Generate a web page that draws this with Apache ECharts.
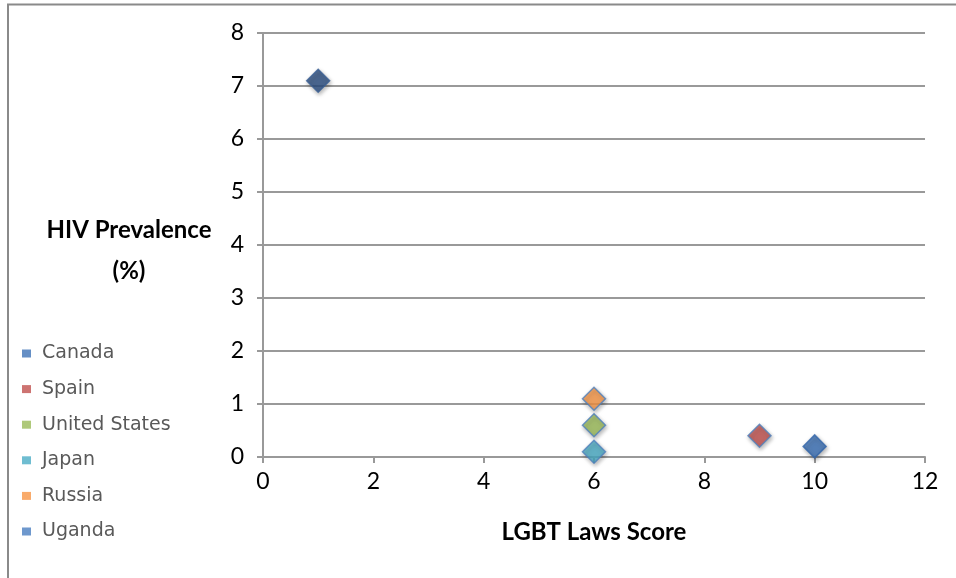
<!DOCTYPE html>
<html><head><meta charset="utf-8">
<script src="https://cdn.jsdelivr.net/npm/echarts@6/dist/echarts.min.js"></script>
<style>html,body{margin:0;padding:0;background:#fff}#c{width:956px;height:578px}</style>
</head><body><div id="c"></div>
<script>
const countries = ['Canada','Spain','United States','Japan','Russia','Uganda'];
const lgbtScore = [10, 9, 6, 6, 6, 1];
const hivPrevalence = [0.2, 0.4, 0.6, 0.1, 1.1, 7.1];
const fillColors = ['#3A6FB5','#C0504D','#9BBB59','#4BACC6','#F79646','#2C4F82'];
const borderColors = ['#3567AA','#4F81BD','#4F81BD','#4F81BD','#4F81BD','#3A5F94'];
const legendColors = ['#3F73B6','#C0504D','#9BBB59','#4BACC6','#F79646','#4A7EC0'];
const xTicks = [0,2,4,6,8,10,12];
const yTicks = [0,1,2,3,4,5,6,7,8];

const chart = echarts.init(document.getElementById('c'));
const series = countries.map((n,i)=>({
  name:n, type:'scatter', symbol:'diamond', symbolSize:23,
  data:[[lgbtScore[i], hivPrevalence[i]]],
  itemStyle:{color:fillColors[i], borderColor:borderColors[i], borderWidth:1.5,
    shadowColor:'rgba(0,0,0,0.35)', shadowBlur:4, shadowOffsetX:1, shadowOffsetY:2},
  emphasis:{disabled:true}
}));
chart.setOption({
  animation:false,
  graphic:[
    {type:'polyline', shape:{points:[[8,578],[8,4.5],[956,4.5]]}, style:{stroke:'#8a8a8a', lineWidth:2, fill:null}},
    {type:'text', x:129, y:230, style:{text:'HIV Prevalence', font:'bold 24px Lato', fill:'#000', align:'center', verticalAlign:'middle'}},
    {type:'text', x:129, y:271, style:{text:'(%)', font:'bold 24px Lato', fill:'#000', align:'center', verticalAlign:'middle'}}
  ],
  grid:{left:263, right:31, top:33, bottom:121},
  xAxis:{type:'value', min:0, max:12, interval:2,
    name:'LGBT Laws Score', nameLocation:'middle', nameGap:63,
    nameTextStyle:{fontFamily:'Lato', fontWeight:'bold', fontSize:24, color:'#000'},
    axisLine:{show:true, onZero:false, lineStyle:{color:'#999', width:2}},
    axisTick:{show:true, length:6, lineStyle:{color:'#999', width:2}},
    axisLabel:{fontFamily:'Lato', fontSize:23, color:'#000', margin:13},
    splitLine:{show:false}},
  yAxis:{type:'value', min:0, max:8, interval:1,
    axisLine:{show:true, onZero:false, lineStyle:{color:'#999', width:2}},
    axisTick:{show:true, length:6, lineStyle:{color:'#999', width:2}},
    axisLabel:{fontFamily:'Lato', fontSize:23, color:'#000', margin:19},
    splitLine:{show:true, lineStyle:{color:'#999', width:2}}},
  legend:{orient:'vertical', left:22, top:344, padding:0, icon:'rect', itemWidth:9, itemHeight:8,
    itemGap:16.6, selectedMode:false,
    formatter: n => '{a|' + n + '}',
    textStyle:{color:'#595959', rich:{a:{fontFamily:'DejaVu Sans', fontSize:19, color:'#595959', lineHeight:20, padding:[0,0,0,6]}}},
    data:countries.map((n,i)=>({name:n, itemStyle:{color:legendColors[i], borderWidth:0, shadowBlur:0, shadowOffsetX:0, shadowOffsetY:0}}))},
  series:series
});
</script></body></html>
